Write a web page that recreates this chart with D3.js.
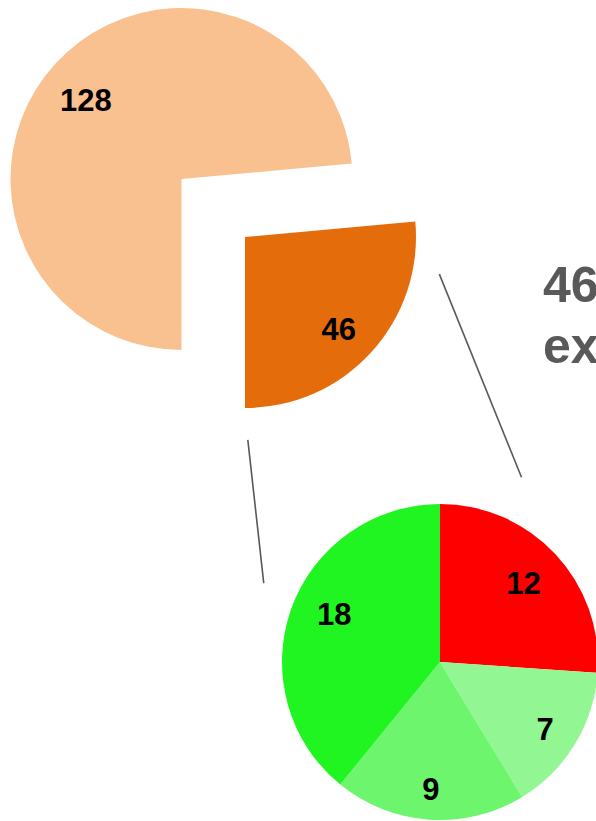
<!DOCTYPE html>
<html>
<head>
<meta charset="utf-8">
<script src="https://cdn.jsdelivr.net/npm/d3@7"></script>
<style>
  html, body { margin: 0; padding: 0; background: #fff; overflow: hidden; }
  svg { display: block; }
  text { font-family: "Liberation Sans", Arial, sans-serif; font-weight: bold; }
</style>
</head>
<body>
<script>
// Main pie: kept vs. broken-out part
const mainLabels = ["kept", "broken out"];
const mainValues = [128, 46];
const mainColors = ["#F9C190", "#E46C0A"];

// Breakdown of the broken-out part
const subLabels = ["A", "B", "C", "D"];
const subValues = [12, 7, 9, 18];
const subColors = ["#FF0000", "#92F792", "#6DF56D", "#21F521"];

// Side caption
const captionLines = ["46 records", "excluded"];

const W = 596, H = 821;
const svg = d3.select("body").append("svg").attr("width", W).attr("height", H);

// Layout
const big = { cx: 181.5, cy: 179, r: 171, explode: 86 };
const small = { cx: 440, cy: 662, r: 158 };
const labelFont = 31;
const labelDrop = 5;
// small hand adjustments of the breakdown labels (px)
const subLabelNudge = [[-3, -3], [4, 1], [-1, 4], [6, -13]];

function polar(cx, cy, rad, ang) {
  return [cx + rad * Math.sin(ang), cy - rad * Math.cos(ang)];
}

// Main pie starts at the bottom so the broken-out slice ends there
const mainPie = d3.pie().sort(null).value(d => d)
  .startAngle(Math.PI).endAngle(3 * Math.PI);
const mainArcs = mainPie(mainValues);
const bigArc = d3.arc().innerRadius(0).outerRadius(big.r);
const bigLabelArc = d3.arc().innerRadius(big.r * 0.75).outerRadius(big.r * 0.75);

const mainG = svg.append("g");
mainArcs.forEach((a, i) => {
  const mid = (a.startAngle + a.endAngle) / 2;
  const off = i === 1 ? big.explode : 0;
  const [x, y] = polar(big.cx, big.cy, off, mid);
  const g = mainG.append("g").attr("transform", `translate(${x},${y})`);
  g.append("path").attr("d", bigArc(a)).attr("fill", mainColors[i]);
  const c = bigLabelArc.centroid(a);
  g.append("text")
    .attr("x", c[0] - 1).attr("y", c[1] + labelDrop + (i === 0 ? 3 : 1))
    .attr("text-anchor", "middle").attr("dominant-baseline", "central")
    .attr("font-size", labelFont).attr("fill", "#000")
    .text(mainValues[i]);
});

// Connector lines from the broken-out slice to the breakdown pie
const exploded = mainArcs[1];
const exMid = (exploded.startAngle + exploded.endAngle) / 2;
const exCenter = polar(big.cx, big.cy, big.explode, exMid);
const deg = Math.PI / 180;
const connectors = [
  { from: [1.157, 100.8], to: [1.278, 23.8] },
  { from: [1.187, 179.2], to: [1.222, 294.1] }
];
connectors.forEach(cn => {
  const p0 = polar(exCenter[0], exCenter[1], big.r * cn.from[0], cn.from[1] * deg);
  const p1 = polar(small.cx, small.cy, small.r * cn.to[0], cn.to[1] * deg);
  svg.append("line")
    .attr("x1", p0[0]).attr("y1", p0[1]).attr("x2", p1[0]).attr("y2", p1[1])
    .attr("stroke", "#595959").attr("stroke-width", 1.6);
});

// Breakdown pie
const subPie = d3.pie().sort(null).value(d => d);
const subArcs = subPie(subValues);
const smallArc = d3.arc().innerRadius(0).outerRadius(small.r);
const smallLabelArc = d3.arc().innerRadius(small.r * 0.75).outerRadius(small.r * 0.75);
const subG = svg.append("g").attr("transform", `translate(${small.cx},${small.cy})`);
subG.selectAll("path").data(subArcs).join("path")
  .attr("d", smallArc)
  .attr("fill", (d, i) => subColors[i]);
subG.selectAll("text").data(subArcs).join("text")
  .attr("x", (d, i) => smallLabelArc.centroid(d)[0] + subLabelNudge[i][0])
  .attr("y", (d, i) => smallLabelArc.centroid(d)[1] + labelDrop + subLabelNudge[i][1])
  .attr("text-anchor", "middle").attr("dominant-baseline", "central")
  .attr("font-size", labelFont).attr("fill", "#000")
  .text(d => d.data);

// Caption
const cap = svg.append("text").attr("x", 543).attr("y", 302)
  .attr("font-size", 50).attr("fill", "#595959");
captionLines.forEach((t, i) => {
  cap.append("tspan").attr("x", 543).attr("dy", i === 0 ? 0 : 61).text(t);
});
</script>
</body>
</html>
